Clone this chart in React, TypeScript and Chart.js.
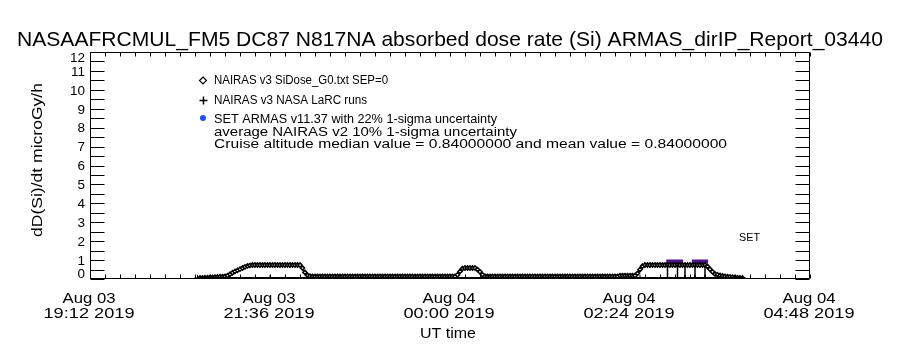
import React, { useEffect, useRef } from 'react';
import { Chart, registerables } from 'chart.js';

Chart.register(...registerables);

// ---------- text ----------
const TITLE = 'NASAAFRCMUL_FM5 DC87 N817NA absorbed dose rate (Si) ARMAS_dirIP_Report_03440';
const Y_TITLE = 'dD(Si)/dt microGy/h';
const X_TITLE = 'UT time';
const SET_LABEL = 'SET';
const LEGEND_LINES = [
  'NAIRAS v3 SiDose_G0.txt SEP=0',
  'NAIRAS v3 NASA LaRC runs',
  'SET ARMAS v11.37 with 22% 1-sigma uncertainty',
  'average NAIRAS v2 10% 1-sigma uncertainty',
  'Cruise altitude median value = 0.84000000 and mean value = 0.84000000',
];

// ---------- axes (x in minutes after Aug 03 19:12 UT) ----------
const X_MIN = 0;
const X_MAX = 576;
const X_MINOR_STEP = 12;
const X_TICK_MINUTES = [0, 144, 288, 432, 576];
const X_TICK_DAYS = ['Aug 03', 'Aug 03', 'Aug 04', 'Aug 04', 'Aug 04'];
const X_TICK_TIMES = ['19:12 2019', '21:36 2019', '00:00 2019', '02:24 2019', '04:48 2019'];
const Y_MIN = 0;
const Y_MAX = 12;
const Y_MINOR_STEP = 0.5;
const Y_TICK_VALUES = [0, 1, 2, 3, 4, 5, 6, 7, 8, 9, 10, 11, 12];

// ---------- NAIRAS v3 SiDose (diamonds), sampled every 2 min from minute 88 ----------
const NAIRAS_START_MIN = 88;
const NAIRAS_STEP_MIN = 2;
const NAIRAS_VALUES = [
  // 88 .. 108
  0.06, 0.06, 0.07, 0.07, 0.08, 0.09, 0.10, 0.11, 0.12, 0.13, 0.14,
  // 110 .. 128 climb
  0.17, 0.25, 0.33, 0.40, 0.46, 0.52, 0.58, 0.64, 0.69, 0.72,
  // 130 .. 168 cruise
  0.74, 0.74, 0.74, 0.74, 0.74, 0.74, 0.74, 0.74, 0.74, 0.74,
  0.74, 0.74, 0.74, 0.74, 0.74, 0.74, 0.74, 0.74, 0.74, 0.74,
  // 170 .. 176 descent
  0.58, 0.35, 0.20, 0.15,
  // 178 .. 292 ground
  0.14, 0.14, 0.14, 0.14, 0.14, 0.14, 0.14, 0.14, 0.14, 0.14,
  0.14, 0.14, 0.14, 0.14, 0.14, 0.14, 0.14, 0.14, 0.14, 0.14,
  0.14, 0.14, 0.14, 0.14, 0.14, 0.14, 0.14, 0.14, 0.14, 0.14,
  0.14, 0.14, 0.14, 0.14, 0.14, 0.14, 0.14, 0.14, 0.14, 0.14,
  0.14, 0.14, 0.14, 0.14, 0.14, 0.14, 0.14, 0.14, 0.14, 0.14,
  0.14, 0.14, 0.14, 0.14, 0.14, 0.14, 0.14, 0.14,
  // 294 .. 314 short hop
  0.22, 0.40, 0.55, 0.58, 0.58, 0.58, 0.58, 0.58, 0.50, 0.38, 0.22,
  // 316 .. 436 ground
  0.14, 0.14, 0.14, 0.14, 0.14, 0.14, 0.14, 0.14, 0.14, 0.14,
  0.14, 0.14, 0.14, 0.14, 0.14, 0.14, 0.14, 0.14, 0.14, 0.14,
  0.14, 0.14, 0.14, 0.14, 0.14, 0.14, 0.14, 0.14, 0.14, 0.14,
  0.14, 0.14, 0.14, 0.14, 0.14, 0.14, 0.14, 0.14, 0.14, 0.14,
  0.14, 0.14, 0.14, 0.14, 0.14, 0.14, 0.14, 0.14, 0.14, 0.14,
  0.14, 0.14, 0.14, 0.14,
  0.18, 0.18, 0.18, 0.18, 0.18, 0.18, 0.18,
  // 438 .. 442 climb
  0.30, 0.50, 0.68,
  // 444 .. 492 cruise
  0.74, 0.74, 0.74, 0.74, 0.74, 0.74, 0.74, 0.74, 0.74, 0.74,
  0.74, 0.74, 0.74, 0.74, 0.74, 0.74, 0.74, 0.74, 0.74, 0.74,
  0.74, 0.74, 0.74, 0.74, 0.74,
  // 494 .. 522 descent
  0.66, 0.52, 0.38, 0.26, 0.22, 0.19, 0.16, 0.14, 0.12, 0.11, 0.10, 0.08, 0.07, 0.06, 0.05,
];

// ---------- NAIRAS v3 NASA LaRC runs (+) ----------
const LARC_MINUTES = [86, 144, 200, 260, 320, 380, 440, 462, 462, 462, 470, 470, 470, 476, 476, 476, 484, 484, 484, 492, 492, 492, 522];
const LARC_VALUES = [0.06, 0.06, 0.06, 0.06, 0.06, 0.06, 0.06, 0.06, 0.74, 0.06, 0.06, 0.74, 0.06, 0.06, 0.74, 0.06, 0.06, 0.74, 0.06, 0.06, 0.74, 0.06, 0.06];

// ---------- SET ARMAS v11.37 ----------
const SET_MINUTES = [461, 464, 467, 470, 474.5, 478, 481.5, 484, 487, 490, 494.5];
const SET_VALUES = [0.93, 0.93, 0.93, 0.93, 0.93, null, 0.93, 0.93, 0.93, 0.93, 0.93];

const FONT = '"Liberation Sans", Arial, sans-serif';

function drawFitted(
  ctx: CanvasRenderingContext2D,
  text: string,
  x: number,
  y: number,
  size: number,
  width: number | null,
  align: CanvasTextAlign,
  rot = 0,
) {
  ctx.save();
  ctx.font = `${size}px ${FONT}`;
  ctx.fillStyle = '#000';
  ctx.textAlign = align;
  ctx.textBaseline = 'alphabetic';
  const w = ctx.measureText(text).width;
  const sx = width ? width / w : 1;
  ctx.translate(x, y);
  if (rot) ctx.rotate(rot);
  ctx.scale(sx, 1);
  ctx.fillText(text, 0, 0);
  ctx.restore();
}

const framePlugin = {
  id: 'idlFrame',
  afterDraw(chart: any) {
    const ctx: CanvasRenderingContext2D = chart.ctx;
    const xs = chart.scales.x;
    const ys = chart.scales.y;
    const { left, right, top, bottom } = chart.chartArea;
    const L = Math.round(left) + 0.5;
    const R = Math.round(right) - 0.5;
    const T = Math.round(top) + 0.5;
    const B = Math.round(bottom) - 0.5;
    ctx.save();
    ctx.strokeStyle = '#000';
    ctx.lineWidth = 1;
    ctx.beginPath();
    ctx.rect(L, T, R - L, B - T);
    for (let v = Y_MIN; v <= Y_MAX + 1e-9; v += Y_MINOR_STEP) {
      const y = Math.round(ys.getPixelForValue(v)) + 0.5;
      ctx.moveTo(L, y);
      ctx.lineTo(L + 14, y);
      ctx.moveTo(R, y);
      ctx.lineTo(R - 14, y);
    }
    for (let m = X_MIN; m <= X_MAX + 1e-9; m += X_MINOR_STEP) {
      const x = Math.round(xs.getPixelForValue(m)) + 0.5;
      ctx.moveTo(x, B);
      ctx.lineTo(x, B - 4);
      ctx.moveTo(x, T);
      ctx.lineTo(x, T + 4);
    }
    ctx.stroke();
    ctx.restore();

    Y_TICK_VALUES.forEach((v) => {
      let cy = ys.getPixelForValue(v);
      cy = Math.min(Math.max(cy, top + 5), bottom - 5.5);
      drawFitted(ctx, String(v), left - 5, cy + 4.8, 13.5, null, 'right');
    });
    X_TICK_MINUTES.forEach((m, i) => {
      const cx = xs.getPixelForValue(m) - 1;
      drawFitted(ctx, X_TICK_DAYS[i], cx, 303, 15, 53, 'center');
      drawFitted(ctx, X_TICK_TIMES[i], cx, 318, 15, 91, 'center');
    });
    drawFitted(ctx, TITLE, 450, 46, 21, 866, 'center');
    drawFitted(ctx, X_TITLE, 448, 338, 15, 56, 'center');
    drawFitted(ctx, Y_TITLE, 42, 160, 14, 154, 'center', -Math.PI / 2);

    const legendX = 214;
    const legendY = [84, 104, 123, 136, 148];
    const legendW = [174, 153, 283, 303, 513];
    LEGEND_LINES.forEach((t, i) => drawFitted(ctx, t, legendX, legendY[i], 12.5, legendW[i], 'left'));

    ctx.save();
    ctx.strokeStyle = '#000';
    ctx.fillStyle = '#fff';
    ctx.lineWidth = 1.2;
    ctx.beginPath();
    ctx.moveTo(203, 77);
    ctx.lineTo(206.5, 80.5);
    ctx.lineTo(203, 84);
    ctx.lineTo(199.5, 80.5);
    ctx.closePath();
    ctx.fill();
    ctx.stroke();
    ctx.beginPath();
    ctx.moveTo(199.5, 100.5);
    ctx.lineTo(207.5, 100.5);
    ctx.moveTo(203.5, 96.5);
    ctx.lineTo(203.5, 104.5);
    ctx.lineWidth = 1.5;
    ctx.stroke();
    ctx.fillStyle = '#1f4dff';
    ctx.beginPath();
    ctx.arc(203, 118, 3, 0, Math.PI * 2);
    ctx.fill();
    ctx.restore();

    drawFitted(ctx, SET_LABEL, 739, 241, 11.5, 21, 'left');
  },
};

export default function App() {
  const canvasRef = useRef<HTMLCanvasElement | null>(null);

  useEffect(() => {
    document.body.style.margin = '0';
    document.body.style.background = '#fff';
    const canvas = canvasRef.current;
    if (!canvas) return;

    const nairasPts = NAIRAS_VALUES.map((v, i) => ({ x: NAIRAS_START_MIN + i * NAIRAS_STEP_MIN, y: v }));
    const larcPts = LARC_MINUTES.map((m, i) => ({ x: m, y: LARC_VALUES[i] }));
    const larcRadius = LARC_VALUES.map((v) => (v > 0.5 ? 0 : 3));
    const setPts = SET_MINUTES.map((m, i) => ({ x: m, y: SET_VALUES[i] }));

    const chart = new Chart(canvas, {
      type: 'line',
      data: {
        datasets: [
          {
            label: LEGEND_LINES[1],
            data: larcPts,
            borderColor: '#000',
            borderWidth: 1.5,
            pointStyle: 'cross',
            pointRadius: larcRadius,
            pointBorderColor: '#000',
            pointBorderWidth: 1,
            fill: false,
            tension: 0,
          },
          {
            label: LEGEND_LINES[0],
            data: nairasPts,
            borderColor: '#000',
            borderWidth: 1,
            pointStyle: 'rectRot',
            pointRadius: 2.1,
            pointBackgroundColor: '#fff',
            pointBorderColor: '#000',
            pointBorderWidth: 1.5,
            fill: false,
            tension: 0,
          },
          {
            label: LEGEND_LINES[2],
            data: setPts as any,
            borderColor: '#4e1588',
            borderWidth: 4,
            borderCapStyle: 'butt',
            pointRadius: 0,
            spanGaps: false,
            fill: false,
            tension: 0,
          },
        ],
      },
      options: {
        animation: false,
        responsive: false,
        devicePixelRatio: 1,
        events: [],
        layout: { padding: { left: 90, right: 90, top: 52, bottom: 71 } },
        scales: {
          x: { type: 'linear', min: X_MIN, max: X_MAX, display: false },
          y: { type: 'linear', min: Y_MIN, max: Y_MAX, display: false },
        },
        plugins: {
          legend: { display: false },
          tooltip: { enabled: false },
          title: { display: false },
        },
      },
      plugins: [framePlugin],
    });

    return () => chart.destroy();
  }, []);

  return (
    <div style={{ width: 900, height: 350, background: '#fff' }}>
      <canvas ref={canvasRef} width={900} height={350} style={{ display: 'block' }} />
    </div>
  );
}
